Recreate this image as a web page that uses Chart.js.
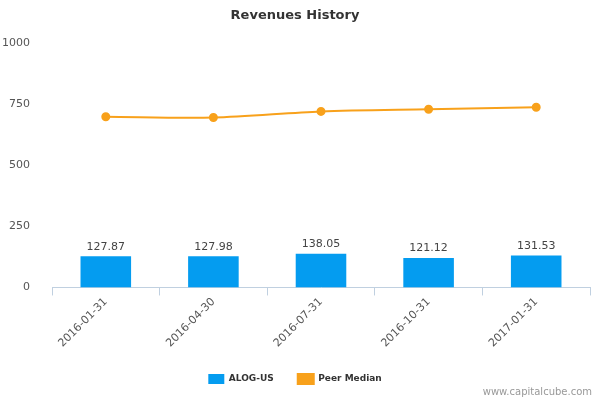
<!DOCTYPE html>
<html><head><meta charset="utf-8">
<script src="https://cdn.jsdelivr.net/npm/chart.js@4/dist/chart.umd.min.js"></script>
<style>body{margin:0;background:#fff}</style>
</head><body><canvas id="c" width="600" height="400"></canvas>
<script>
const categories = ["2016-01-31","2016-04-30","2016-07-31","2016-10-31","2017-01-31"];
const alogValues = [127.87,127.98,138.05,121.12,131.53];
const peerMedian = [700,697,722,731,739];
const yTicks = [0,250,500,750,1000];

const labelPlugin = {
  id:'lbl',
  afterDatasetsDraw(chart){
    const ctx=chart.ctx, meta=chart.getDatasetMeta(0);
    ctx.save();ctx.font='11px "DejaVu Sans", sans-serif';ctx.fillStyle='#444';ctx.textAlign='center';ctx.textBaseline='bottom';
    meta.data.forEach((b,i)=>ctx.fillText(alogValues[i].toFixed(2),b.x,b.y-4));
    ctx.fillStyle='#999';ctx.font='10px "DejaVu Sans", sans-serif';ctx.textAlign='right';
    ctx.fillText('www.capitalcube.com',592,397);
    ctx.restore();
  }
};
new Chart(document.getElementById('c'),{
  data:{labels:categories,datasets:[
    {type:'bar',label:'ALOG-US',data:alogValues,backgroundColor:'#049cf0',barPercentage:0.47,categoryPercentage:1,order:2},
    {type:'line',label:'Peer Median',data:peerMedian,borderColor:'#f8a11b',backgroundColor:'#f8a11b',borderWidth:2,pointRadius:3.5,pointHoverRadius:3.5,tension:0.3,order:1}
  ]},
  plugins:[labelPlugin],
  options:{responsive:false,animation:false,devicePixelRatio:1,
    layout:{padding:{left:0,right:10,top:0,bottom:6}},
    plugins:{
      title:{display:true,text:'Revenues History',color:'#333',font:{family:'"DejaVu Sans", sans-serif',size:13,weight:'bold'},padding:{top:8,bottom:20}},
      legend:{position:'bottom',labels:{sort:(a,b)=>a.datasetIndex-b.datasetIndex,font:{family:'"DejaVu Sans", sans-serif',size:9,weight:'bold'},color:'#333',boxWidth:16,boxHeight:10,padding:24}},
      tooltip:{enabled:false}
    },
    scales:{
      x:{offset:true,grid:{display:true,drawOnChartArea:false,offset:true,color:'#c0d0e0',tickLength:8},border:{color:'#c0d0e0'},
        ticks:{color:'#555',font:{family:'"DejaVu Sans", sans-serif',size:11},maxRotation:45,minRotation:45,padding:0}},
      y:{min:0,max:1000,afterBuildTicks:a=>{a.ticks=yTicks.map(v=>({value:v}));},afterFit:s=>{s.width=52;},grid:{display:false},border:{display:false},
        ticks:{color:'#555',font:{family:'"DejaVu Sans", sans-serif',size:11},padding:14,callback:v=>String(v)}}
    }
  }
});
</script>
</body></html>
